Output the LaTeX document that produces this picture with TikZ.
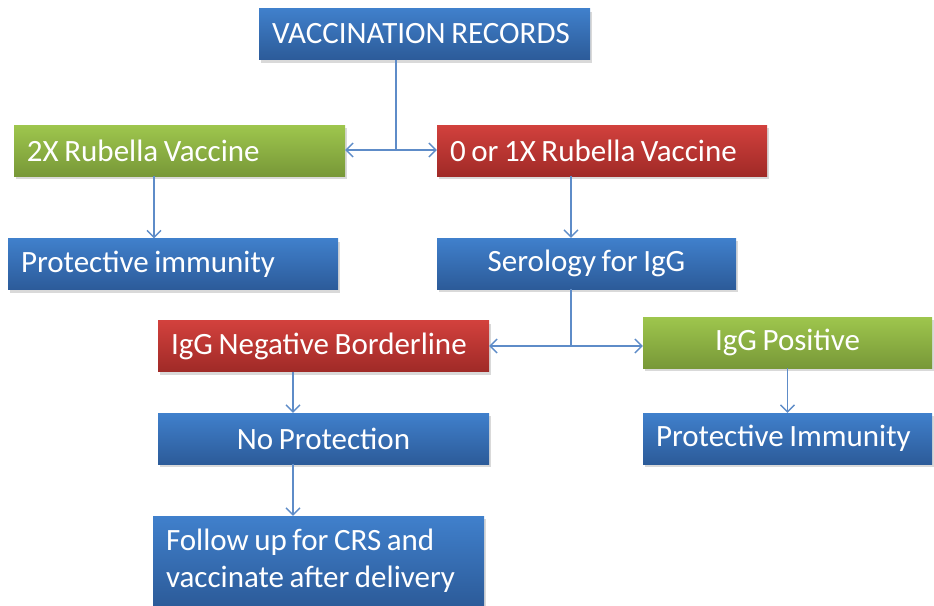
\documentclass[tikz,border=0pt]{standalone}
\usepackage{fontspec}
\setmainfont[WordSpace=0.8]{Carlito}
\usetikzlibrary{arrows.meta,shadows}
\definecolor{bluetop}{HTML}{4080CC}
\definecolor{bluebot}{HTML}{2C5B99}
\definecolor{greentop}{HTML}{9EC64D}
\definecolor{greenbot}{HTML}{789838}
\definecolor{redtop}{HTML}{D2413D}
\definecolor{redbot}{HTML}{A02A27}
\definecolor{linec}{HTML}{5E8CC8}

\begin{document}
\begin{tikzpicture}[x=1pt,y=-1pt,
  box/.style={rectangle,inner xsep=13pt,inner ysep=0pt,text=white,
    font=\fontsize{31}{37}\selectfont,
    drop shadow={shadow xshift=1.5pt,shadow yshift=-3pt,opacity=.3}},
  lbox/.style={box,minimum height=51pt,text width=#1,align=flush left},
  cbox/.style={box,minimum height=51pt,minimum width=#1,align=center},
  bluebox/.style={top color=bluetop,bottom color=bluebot},
  greenbox/.style={top color=greentop,bottom color=greenbot},
  redbox/.style={top color=redtop,bottom color=redbot},
  line/.style={draw=linec,line width=1.3pt},
  arr/.style={line,-{Straight Barb[length=7pt,width=14pt]}}]
  \useasboundingbox (0,0) rectangle (934,605);

  % Boxes
  \node[lbox=305pt,bluebox]  (vr)     at (424.5,34)  {VACCINATION RECORDS};
  \node[lbox=305pt,greenbox] (twox)   at (179.5,150.5) {2X Rubella Vaccine};
  \node[lbox=304pt,redbox]   (onex)   at (602,150.5) {0 or 1X Rubella Vaccine};
  \node[lbox=304pt,bluebox]  (prot1)  at (173,264)   {Protective immunity};
  \node[cbox=299pt,bluebox]  (sero)   at (586.5,263.5) {Serology for IgG};
  \node[lbox=305pt,redbox]   (neg)    at (323.5,346) {IgG Negative Borderline};
  \node[cbox=289pt,greenbox] (pos)    at (787.5,342.5) {IgG Positive};
  \node[cbox=331pt,bluebox]  (noprot) at (323.5,438.5) {No Protection};
  \node[lbox=263pt,bluebox]  (prot2)  at (787.5,438.5) {Protective Immunity};
  \node[lbox=305pt,bluebox,minimum height=90pt] (follow) at (318.5,561)
    {Follow up for CRS and\\vaccinate after delivery};

  % Junctions
  \coordinate (j1) at (396,150);
  \coordinate (j2) at (571,346);
  \coordinate (c1) at (154,0);
  \coordinate (c3) at (293,0);

  % Connectors
  \draw[line] (vr.south -| j1) -- (j1);
  \draw[arr] (j1) -- (j1 -| twox.east);
  \draw[arr] (j1) -- (j1 -| onex.west);
  \draw[line] (sero.south -| j2) -- (j2);
  \draw[arr] (j2) -- (j2 -| neg.east);
  \draw[arr] (j2) -- (j2 -| pos.west);
  \foreach \from/\to/\col in {twox/prot1/c1, onex/sero/j2, neg/noprot/c3, noprot/follow/c3, pos/prot2/pos}
    \draw[arr] (\from.south -| \col) -- (\to.north -| \col);
\end{tikzpicture}
\end{document}
